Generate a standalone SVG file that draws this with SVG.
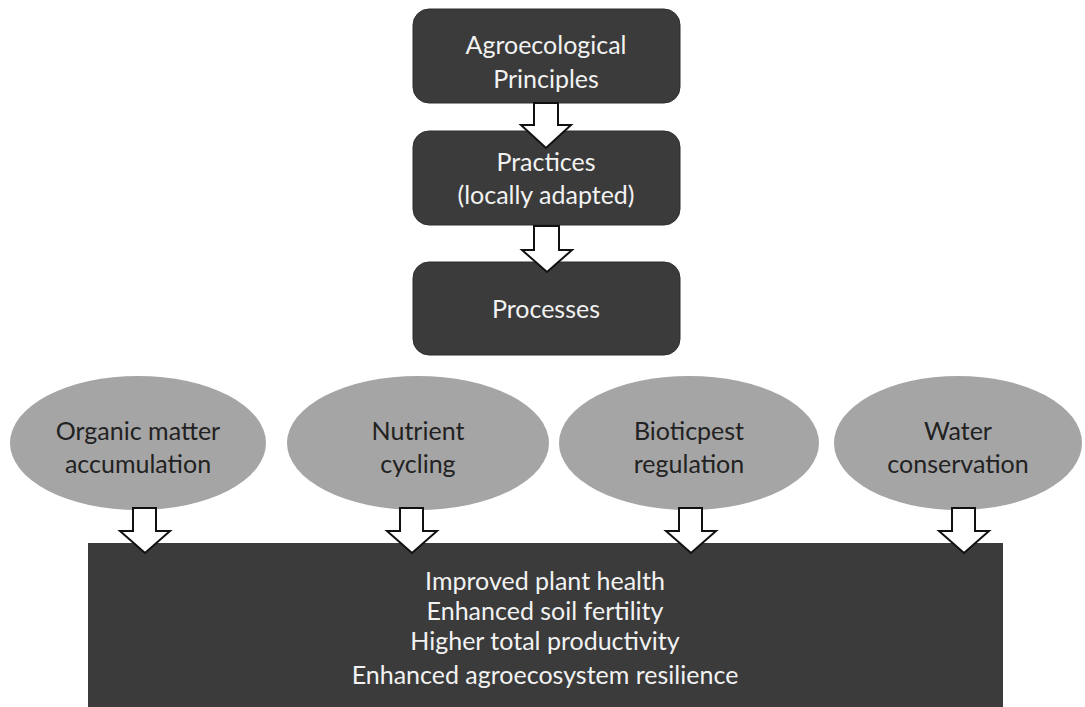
<svg xmlns="http://www.w3.org/2000/svg" width="1085" height="707" viewBox="0 0 1085 707">
<style>
.box{fill:#3b3b3b;stroke:#2e2e2e;stroke-width:1}
.ell{fill:#a5a5a5}
.arr{fill:#ffffff;stroke:#111;stroke-width:2;stroke-linejoin:miter}
.wt{font-family:Lato,"Open Sans",sans-serif;font-size:25px;fill:#f2f2f2;text-anchor:middle}
.dt{font-family:Lato,"Open Sans",sans-serif;font-size:25px;fill:#222;text-anchor:middle}
</style>
<rect width="1085" height="707" fill="#ffffff"/>
<g id="n_principles"><rect class="box" x="413" y="9" width="267" height="94" rx="16"/><text class="wt" x="546" y="54">Agroecological</text><text class="wt" x="546" y="88">Principles</text></g>
<g id="n_practices"><rect class="box" x="413" y="131" width="267" height="94" rx="16"/><text class="wt" x="546" y="171">Practices</text><text class="wt" x="546" y="204">(locally adapted)</text></g>
<g id="n_processes"><rect class="box" x="413" y="262" width="267" height="93" rx="16"/><text class="wt" x="546" y="318">Processes</text></g>
<g id="n_organic"><ellipse class="ell" cx="138" cy="443" rx="128" ry="67"/><text class="dt" x="138" y="440">Organic matter</text><text class="dt" x="138" y="473">accumulation</text></g>
<g id="n_nutrient"><ellipse class="ell" cx="418" cy="443" rx="131" ry="67"/><text class="dt" x="418" y="440">Nutrient</text><text class="dt" x="418" y="473">cycling</text></g>
<g id="n_biotic"><ellipse class="ell" cx="689" cy="443" rx="130" ry="67"/><text class="dt" x="689" y="440">Bioticpest</text><text class="dt" x="689" y="473">regulation</text></g>
<g id="n_water"><ellipse class="ell" cx="958" cy="443" rx="124" ry="67"/><text class="dt" x="958" y="440">Water</text><text class="dt" x="958" y="473">conservation</text></g>
<g id="n_outcomes"><rect x="88" y="543" width="915" height="170" fill="#3b3b3b"/><text class="wt" x="545" y="590">Improved plant health</text><text class="wt" x="545" y="620">Enhanced soil fertility</text><text class="wt" x="545" y="650">Higher total productivity</text><text class="wt" x="545" y="684">Enhanced agroecosystem resilience</text></g>
<g id="connectors">
<path class="arr" d="M534 103 L558 103 L558 125 L571 125 L546 148 L521 125 L534 125 Z"/>
<path class="arr" d="M534 226 L559 226 L559 250 L572 250 L547 272 L522 250 L534 250 Z"/>
<path class="arr" d="M133 508 L156 508 L156 531 L170 531 L145 553 L120 531 L133 531 Z"/>
<path class="arr" d="M400 508 L423 508 L423 531 L437 531 L412 553 L387 531 L400 531 Z"/>
<path class="arr" d="M679 508 L702 508 L702 531 L716 531 L691 553 L666 531 L679 531 Z"/>
<path class="arr" d="M952 508 L975 508 L975 531 L989 531 L964 553 L939 531 L952 531 Z"/>
</g>
</svg>
